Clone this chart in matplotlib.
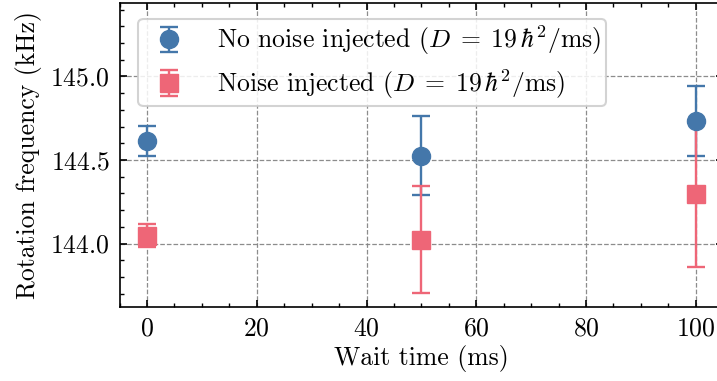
import matplotlib
matplotlib.use("Agg")
import matplotlib.pyplot as plt
from matplotlib.ticker import MultipleLocator

plt.rcParams.update({
    "font.family": "serif",
    "font.serif": ["cmr10", "DejaVu Serif"],
    "mathtext.fontset": "cm",
    "axes.formatter.use_mathtext": True,
    "font.size": 18.5,
})

wait_time = [0, 50, 100]
no_noise = [144.615, 144.527, 144.735]
no_noise_err = [0.09, 0.235, 0.21]
noise = [144.047, 144.022, 144.297]
noise_err = [0.07, 0.32, 0.44]

blue = "#4477AA"
pink = "#EE6677"

fig = plt.figure(figsize=(7.17, 3.81), dpi=100)
ax = fig.add_axes([119.6 / 717, 74 / 381, 603.6 / 717, 304 / 381])

ax.errorbar(wait_time, no_noise, yerr=no_noise_err, fmt="o", color=blue,
            markersize=13, elinewidth=1.7, capsize=6.5, capthick=1.7,
            label=r"No noise injected ($D\;=\;19\,\hbar^2/\mathrm{ms}$)", zorder=3)
ax.errorbar(wait_time, noise, yerr=noise_err, fmt="s", color=pink,
            markersize=13, elinewidth=1.7, capsize=6.5, capthick=1.7,
            label=r"Noise injected ($D\;=\;19\,\hbar^2/\mathrm{ms}$)", zorder=3)

ax.set_xlim(-5, 105)
ax.set_ylim(143.62, 145.44)
ax.xaxis.set_major_locator(MultipleLocator(20))
ax.xaxis.set_minor_locator(MultipleLocator(5))
ax.yaxis.set_major_locator(MultipleLocator(0.5))
ax.yaxis.set_minor_locator(MultipleLocator(0.1))
ax.tick_params(which="both", direction="in", top=True, right=True)
ax.tick_params(which="major", length=5, width=1.2, pad=7)
ax.tick_params(which="minor", length=3, width=1.0)
for s in ax.spines.values():
    s.set_linewidth(1.2)

ax.grid(True, which="major", linestyle="--", color="gray", linewidth=0.9, alpha=0.9)
ax.set_axisbelow(True)

ax.set_xlabel("Wait time (ms)", labelpad=3)
ax.set_ylabel("Rotation frequency (kHz)", labelpad=6)

leg = ax.legend(loc="upper left", bbox_to_anchor=(0.01, 0.99), frameon=True,
                fancybox=True, framealpha=0.85, edgecolor="#cccccc",
                borderpad=0.2, handletextpad=0.85, labelspacing=0.4)
leg.get_frame().set_linewidth(1.5)

fig.savefig("out.png", dpi=100)
